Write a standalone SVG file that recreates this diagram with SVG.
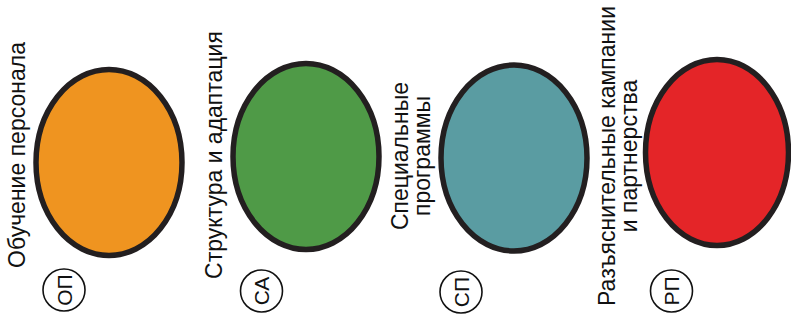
<svg xmlns="http://www.w3.org/2000/svg" width="791" height="323" viewBox="0 0 791 323">
<style>
.lbl{font-family:"Liberation Sans",Arial,sans-serif;font-size:23px;fill:#111;text-anchor:middle}
.tag{font-family:"Liberation Sans",Arial,sans-serif;font-size:21px;fill:#111;text-anchor:middle}
.ring{fill:#fff;stroke:#111;stroke-width:1.6}
.egg{stroke:#231f20;stroke-width:5.5}
</style>
<rect width="791" height="323" fill="#fff"/>
<g id="connectors"></g>
<g id="op">
<ellipse class="egg" cx="109" cy="162.5" rx="73" ry="93" fill="#ef9420" stroke="#261011"/>
<text class="lbl" transform="translate(25,155) rotate(-90)">Обучение персонала</text>
<circle class="ring" cx="64" cy="290" r="21"/>
<text class="tag" transform="translate(71.5,290) rotate(-90)">ОП</text>
</g>
<g id="ca">
<ellipse class="egg" cx="306" cy="156.5" rx="73" ry="93" fill="#4f9a47"/>
<text class="lbl" transform="translate(222,155) rotate(-90)">Структура и адаптация</text>
<circle class="ring" cx="261.5" cy="291" r="21"/>
<text class="tag" transform="translate(269,291) rotate(-90)">СА</text>
</g>
<g id="sp">
<ellipse class="egg" cx="514" cy="158" rx="73" ry="93" fill="#5a9ca2"/>
<text class="lbl" transform="translate(408,156) rotate(-90)">Специальные</text>
<text class="lbl" transform="translate(430,156) rotate(-90)">программы</text>
<circle class="ring" cx="461" cy="292" r="21"/>
<text class="tag" transform="translate(468.5,292) rotate(-90)">СП</text>
</g>
<g id="rp">
<ellipse class="egg" cx="717" cy="152.5" rx="71.5" ry="93" fill="#e42528"/>
<text class="lbl" transform="translate(615,156) rotate(-90)">Разъяснительные кампании</text>
<text class="lbl" transform="translate(637,156) rotate(-90)">и партнерства</text>
<circle class="ring" cx="671.5" cy="291" r="21"/>
<text class="tag" transform="translate(679,291) rotate(-90)">РП</text>
</g>
</svg>
